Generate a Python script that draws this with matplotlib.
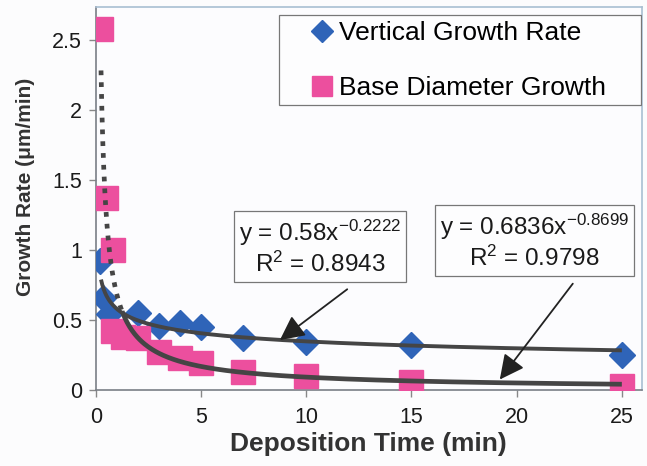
import numpy as np
import matplotlib
matplotlib.use('Agg')
import matplotlib.pyplot as plt
from matplotlib.patches import Rectangle

plt.rcParams['font.family'] = ['Liberation Sans', 'DejaVu Sans']
plt.rcParams['mathtext.fontset'] = 'custom'
plt.rcParams['mathtext.rm'] = 'Liberation Sans'
plt.rcParams['mathtext.it'] = 'Liberation Sans'

# data
t_vert = [0.2, 0.35, 0.65, 2, 3, 4, 5, 7, 10, 15, 25]
vert_rate = [0.92, 0.66, 0.54, 0.55, 0.46, 0.48, 0.45, 0.37, 0.345, 0.32, 0.25]
t_base = [0.27, 0.5, 0.8, 0.8, 1.3, 2, 3, 4, 5, 7, 10, 15, 25]
base_rate = [2.58, 1.37, 1.0, 0.42, 0.38, 0.37, 0.27, 0.23, 0.19, 0.13, 0.1, 0.06, 0.03]
xticks = [0, 5, 10, 15, 20, 25]
yticks = [0, 0.5, 1, 1.5, 2, 2.5]

# power fits as printed on the chart
vert_a, vert_b, vert_r2 = 0.58, -0.2222, 0.8943
base_a, base_b, base_r2 = 0.6836, -0.8699, 0.9798

blue = '#2f64b8'
pink = '#ec4f9e'
trend = '#454545'

fig = plt.figure(figsize=(6.47, 4.66), dpi=100)
fig.patch.set_facecolor('#fcfcfd')
ax = fig.add_axes([0.148, 0.163, 0.844, 0.823])
ax.set_facecolor('#fcfcfe')

ax.plot(t_vert, vert_rate, linestyle='none', marker='D', markersize=13.5,
        color=blue, markeredgecolor=blue, label='Vertical Growth Rate', zorder=3)
ax.plot(t_base, base_rate, linestyle='none', marker='s', markersize=17.5,
        color=pink, markeredgecolor=pink, label='Base Diameter Growth', zorder=4)

xx = np.linspace(0.25, 25, 400)
ax.plot(xx, vert_a * xx ** vert_b, color=trend, lw=2.8, zorder=5,
        solid_capstyle='butt')
x_steep = np.linspace(0.25, 1.25, 200)
ax.plot(x_steep, base_a * x_steep ** base_b, color=trend, lw=3.4, zorder=5,
        linestyle=(0, (1, 1.5)), dash_capstyle='butt')
x_flat = np.linspace(1.25, 25, 400)
ax.plot(x_flat, base_a * x_flat ** base_b, color=trend, lw=3.4, zorder=5,
        solid_capstyle='butt')

ax.set_xlim(0, 25.95)
ax.set_ylim(0, 2.74)
ax.set_xticks(xticks)
ax.set_yticks(yticks)
ax.set_yticklabels(['0', '0.5', '1', '1.5', '2', '2.5'])
ax.tick_params(axis='both', labelsize=15.5, direction='out', length=5,
               width=1, color='#888888', labelcolor='#1a1a1a')
ax.tick_params(axis='x', pad=7)
ax.tick_params(axis='y', pad=5)

for side in ['left', 'bottom']:
    ax.spines[side].set_color('#7a7f86')
    ax.spines[side].set_linewidth(1.2)
for side in ['top', 'right']:
    ax.spines[side].set_color('#a9bfd2')
    ax.spines[side].set_linewidth(1.2)

ax.set_xlabel('Deposition Time (min)', fontsize=19, fontweight='bold',
              color='#333333', labelpad=3)
ax.set_ylabel('Growth Rate (\u03bcm/min)', fontsize=15, fontweight='bold',
              color='#333333')
ax.yaxis.set_label_coords(-0.112, 0.53)

# legend frame drawn separately so the text can sit where it does in the original
ax.add_patch(Rectangle((0.335, 0.742), 0.663, 0.237, transform=ax.transAxes,
                       facecolor='#fdfdfe', edgecolor='#777777', lw=0.9, zorder=8))
leg = ax.legend(loc='upper left', bbox_to_anchor=(0.397, 0.961), fontsize=19,
                frameon=False, handlelength=0.7, handletextpad=0.3,
                labelspacing=1.15, borderpad=0, borderaxespad=0, markerscale=0.8)
leg.set_zorder(9)

box = dict(boxstyle='square,pad=0.2', facecolor='#fdfdfe', edgecolor='#777777', lw=0.9)
ax.text(10.67, 1.02, 'y = %.2fx$^{%.4f}$\nR$^2$ = %.4f' % (vert_a, vert_b, vert_r2),
        fontsize=17.5, ha='center', va='center', multialignment='center',
        bbox=box, zorder=6, color='#1a1a1a')
ax.text(20.84, 1.06, 'y = %.4fx$^{%.4f}$\nR$^2$ = %.4f' % (base_a, base_b, base_r2),
        fontsize=17.5, ha='center', va='center', multialignment='center',
        bbox=box, zorder=6, color='#1a1a1a')

arrow = dict(arrowstyle='-|>,head_length=1.5,head_width=0.75', color='#222222',
             lw=1.3, facecolor='#555555', shrinkA=0, shrinkB=0)
ax.annotate('', xy=(8.75, 0.357), xytext=(11.95, 0.72), arrowprops=arrow, zorder=7)
ax.annotate('', xy=(19.2, 0.075), xytext=(22.67, 0.76), arrowprops=arrow, zorder=7)

fig.savefig('out.png', dpi=100, facecolor=fig.get_facecolor())
